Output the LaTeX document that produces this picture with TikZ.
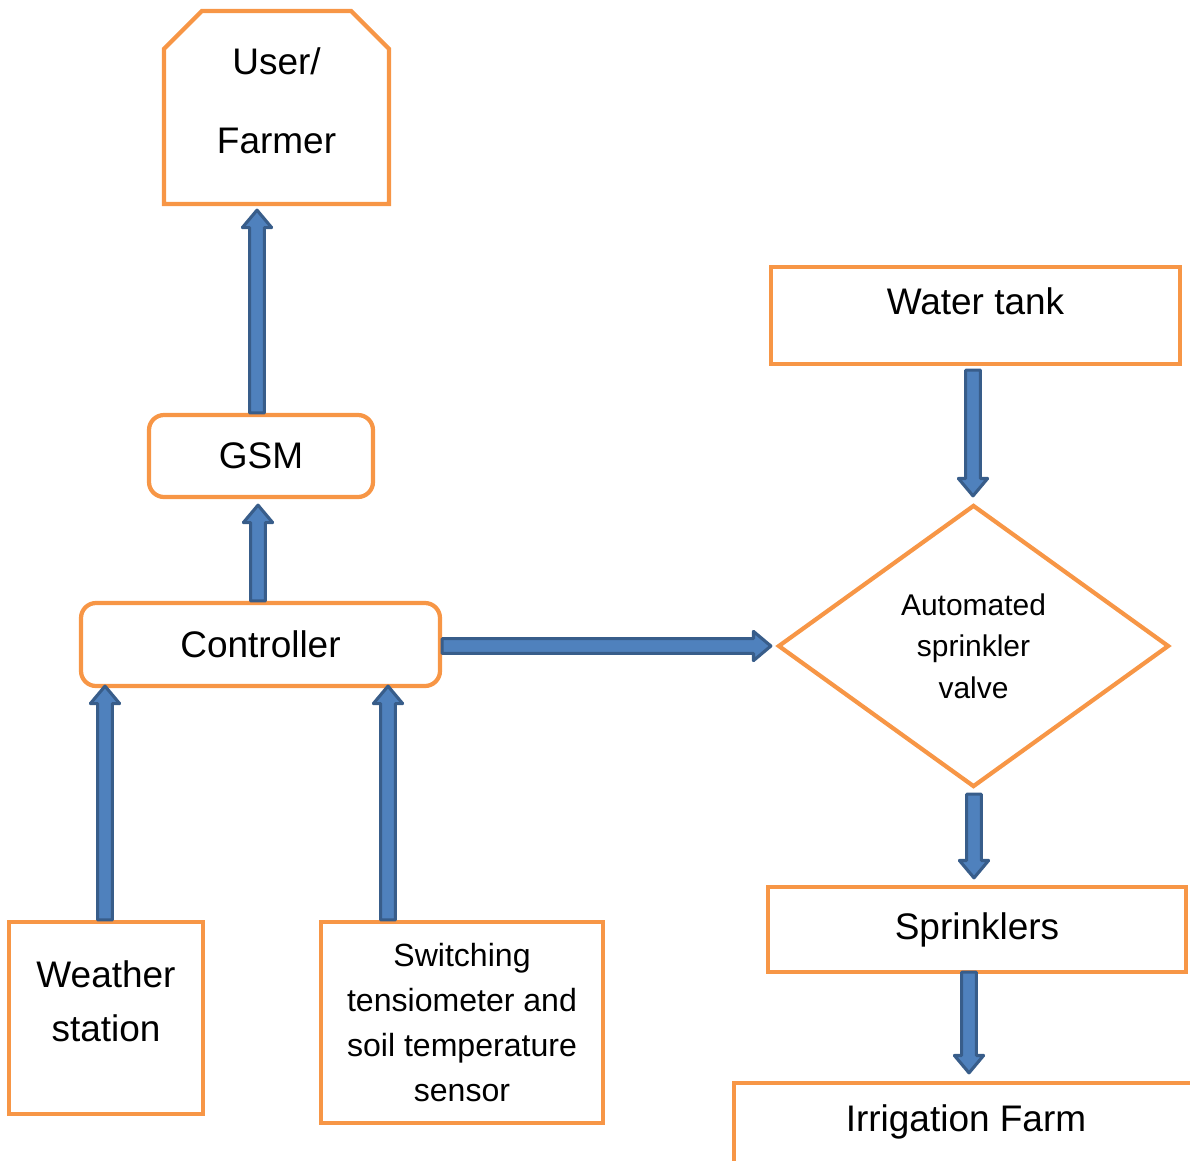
\documentclass[tikz,border=0pt]{standalone}
\usepackage{fontspec}
\setmainfont{Liberation Sans}
\usetikzlibrary{calc,shapes.geometric,shapes.misc}

\definecolor{boxorange}{HTML}{F79646}
\definecolor{arrowfill}{HTML}{4F81BD}
\definecolor{arrowline}{HTML}{385D8A}

\newlength{\px}
\setlength{\px}{0.025cm}
\def\shaftw{5.2pt}
\def\headw{10.4pt}
\def\headl{12.4pt}

\begin{document}
\begin{tikzpicture}[x=0.025cm, y=-0.025cm,
    box/.style={rectangle, draw=boxorange, line width=3pt, align=center, inner sep=0pt,
      font=\fontsize{26.3}{38.4}\selectfont},
    roundbox/.style={box, rounded corners=10.7pt},
    bigarrow/.style={draw=arrowline, fill=arrowfill, line width=2.2pt, line join=round,
      to path={let \p1=($(\tikztotarget)!\headl!(\tikztostart)$) in
        ($(\tikztostart)!\shaftw!90:(\tikztotarget)$)
        -- ($(\p1)!\shaftw!90:(\tikztotarget)$)
        -- ($(\p1)!\headw!90:(\tikztotarget)$)
        -- (\tikztotarget)
        -- ($(\p1)!\headw!-90:(\tikztotarget)$)
        -- ($(\p1)!\shaftw!-90:(\tikztotarget)$)
        -- ($(\tikztostart)!\shaftw!-90:(\tikztotarget)$)
        -- cycle}}
  ]
    \useasboundingbox (0,0) rectangle (1190,1160);
    \clip (0,0) rectangle (1190,1160);

    % Left side
    \node (user) [box, chamfered rectangle, chamfered rectangle corners={north west,north east},
      chamfered rectangle xsep=33\px, minimum width=225\px, minimum height=193\px,
      font=\fontsize{26.3}{56.2}\selectfont, text depth=9.2pt] at (276.5,107.5) {User/\\Farmer};
    \node (gsm) [roundbox, minimum width=224\px, minimum height=82\px] at (261,456) {GSM};
    \node (ctrl) [roundbox, minimum width=359\px, minimum height=83\px] at (260.5,644.5) {Controller};
    \node (weather) [box, minimum width=194\px, minimum height=192\px, text depth=23.5pt] at (106,1018) {Weather\\station};
    \node (sensor) [box, minimum width=282\px, minimum height=201\px,
      font=\fontsize{22.8}{32}\selectfont] at (462,1022.5) {Switching\\tensiometer and\\soil temperature\\sensor};

    % Right side
    \node (tank) [box, minimum width=409\px, minimum height=97\px, text depth=20pt] at (975.5,315.5) {Water tank};
    \node (valve) [box, diamond, minimum width=391\px, minimum height=282\px,
      font=\fontsize{21.3}{29.5}\selectfont] at (973.5,646) {Automated\\sprinkler\\valve};
    \node (sprink) [box, minimum width=418\px, minimum height=85\px] at (977,929.5) {Sprinklers};
    \node (farm) [box, minimum width=464\px, minimum height=114\px, text depth=30.6pt] at (966,1140) {Irrigation Farm};

    % Arrows
    \draw [bigarrow] ([xshift=-2.5\px]ctrl.north) to ([xshift=-3\px,yshift=-6\px]gsm.south);
    \draw [bigarrow] ([xshift=-4\px]gsm.north) to ([xshift=-19.5\px,yshift=-4\px]user.south);
    \draw [bigarrow] ([xshift=-1\px]weather.north) to ([xshift=-155.5\px,yshift=2\px]ctrl.south);
    \draw [bigarrow] ([xshift=-74\px]sensor.north) to ([xshift=127.5\px,yshift=2\px]ctrl.south);
    \draw [bigarrow] ([yshift=-1.5\px]ctrl.east) to ([xshift=-5\px]valve.west);
    \draw [bigarrow] ([xshift=-2.5\px,yshift=-4\px]tank.south) to ([xshift=-0.5\px,yshift=7\px]valve.north);
    \draw [bigarrow] ([xshift=0.5\px,yshift=-5\px]valve.south) to ([xshift=-3\px,yshift=7\px]sprink.north);
    \draw [bigarrow] ([xshift=-8\px,yshift=2\px]sprink.south) to ([xshift=3\px,yshift=8\px]farm.north);
\end{tikzpicture}
\end{document}
